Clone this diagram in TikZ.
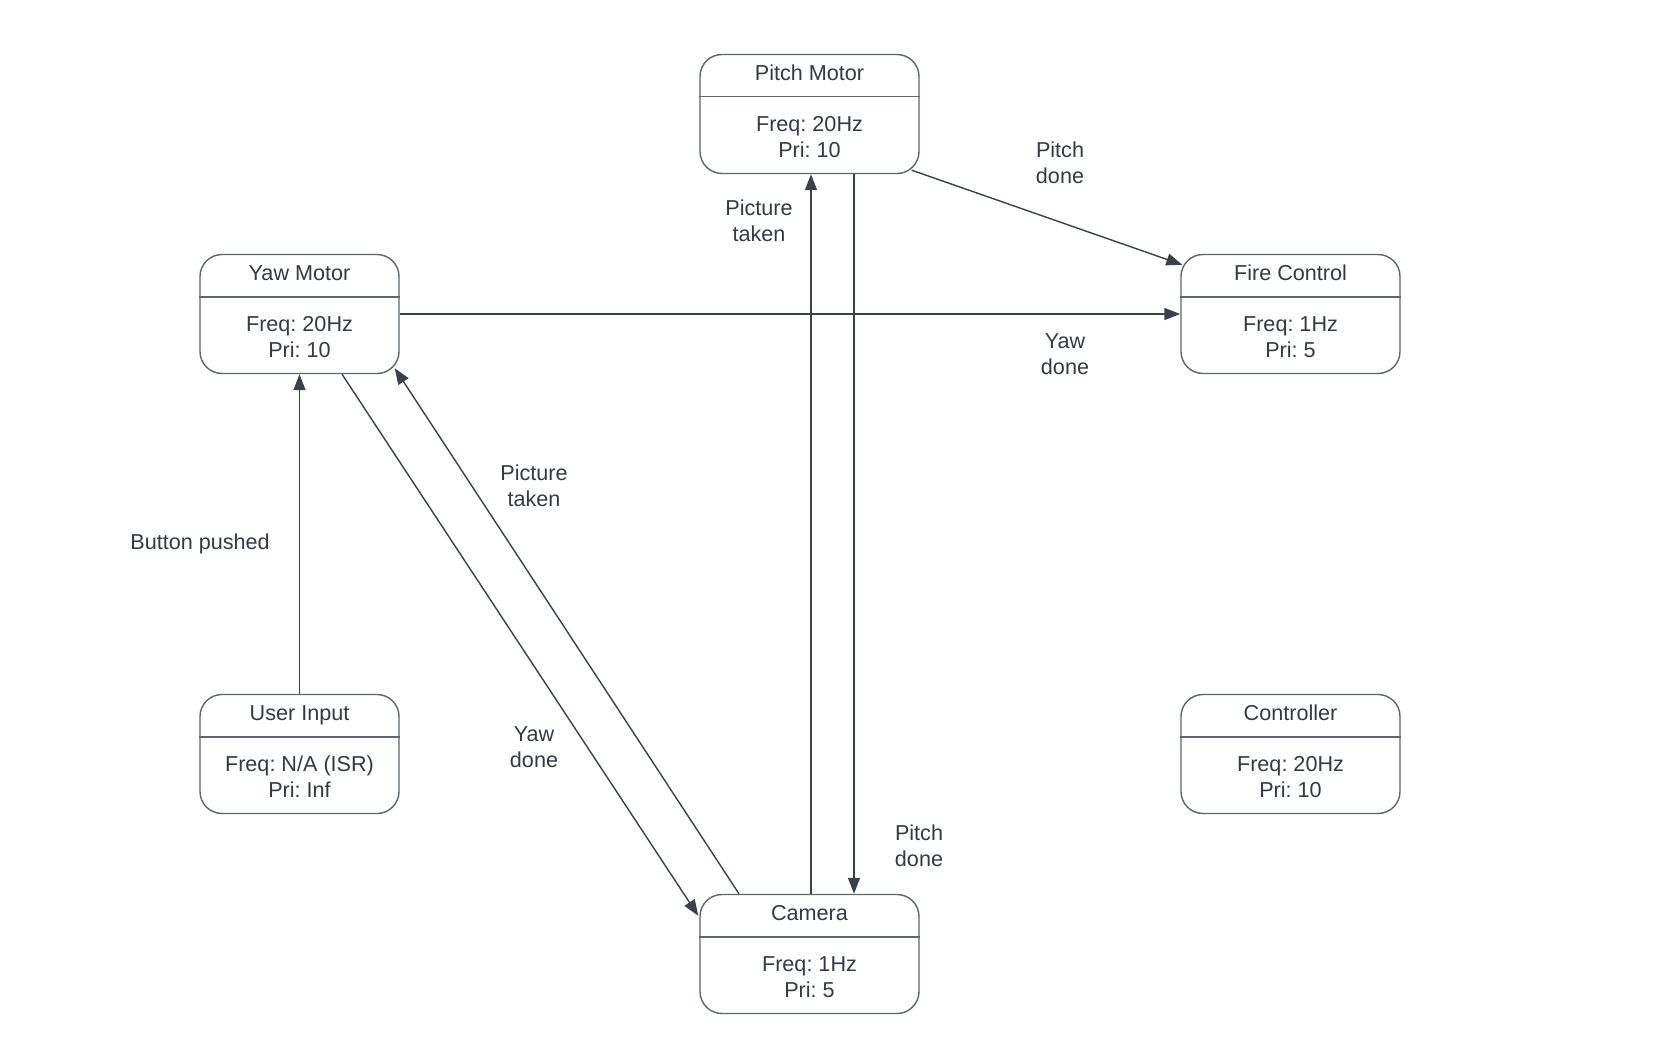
\documentclass[tikz,border=0pt]{standalone}
\usepackage{fontspec}
\setmainfont{Liberation Sans}
\usetikzlibrary{arrows.meta}
\definecolor{ln}{HTML}{3A414A}
\definecolor{bx}{HTML}{5F656D}
\definecolor{tx}{HTML}{333A43}
\frenchspacing
\newcommand\taskbox[7]{%
  \node[box, minimum width=#4] (#1) at (#2,#3) {};
  \node[ttl] (#1-t) at ([yshift=-9.5pt]#1.north) {#5};
  \draw[draw=bx, line width=0.7pt] ([yshift=-21.5pt]#1.north west) -- ([yshift=-21.5pt]#1.north east);
  \node[body] (#1-b) at ([yshift=-41.5pt]#1.north) {#6\\#7};
}
\begin{document}
\begin{tikzpicture}[x=0.5pt,y=-0.5pt, font=\fontsize{10.8}{13}\selectfont,
  box/.style={draw=bx, line width=0.7pt, rounded corners=11pt, minimum height=59.5pt, inner sep=0pt},
  ttl/.style={text=tx, inner sep=0pt, text height=7.8pt, text depth=0pt},
  body/.style={text=tx, align=center, inner sep=0pt},
  lbl/.style={text=tx, align=center, inner sep=0pt},
  arr/.style={draw=ln, line width=0.7pt, -{Triangle[length=8pt,width=6pt]}}]
\fill[white] (0,0) rectangle (1660,1054);
\useasboundingbox (0,0) rectangle (1660,1054);

\taskbox{pm}{809.5}{114}{109.5pt}{Pitch Motor}{Freq: 20Hz}{Pri: 10}
\taskbox{yaw}{299.5}{314}{99.5pt}{Yaw Motor}{Freq: 20Hz}{Pri: 10}
\taskbox{fire}{1290.5}{314}{109.5pt}{Fire Control}{Freq: 1Hz}{Pri: 5}
\taskbox{ui}{299.5}{754}{99.5pt}{User Input}{Freq: N/A (ISR)}{Pri: Inf}
\taskbox{ctrl}{1290.5}{754}{109.5pt}{Controller}{Freq: 20Hz}{Pri: 10}
\taskbox{cam}{809.5}{954}{109.5pt}{Camera}{Freq: 1Hz}{Pri: 5}

\coordinate (c811) at (811,0);
\coordinate (c854) at (854,0);
\coordinate (c342) at (342,0);
\coordinate (c739) at (739,0);

\draw[arr] (ui.north) -- (yaw.south);
\draw[arr] (yaw.east) -- (fire.west);
\draw[arr] ([shift={(-8,-4)}]pm.south east) -- ([shift={(2,11)}]fire.north west);
\draw[arr] (cam.north -| c811) -- (pm.south -| c811);
\draw[arr] (pm.south -| c854) -- (cam.north -| c854);
\draw[arr] (yaw.south -| c342) -- ([shift={(-1,22)}]cam.north west);
\draw[arr] (cam.north -| c739) -- ([shift={(-5,-6)}]yaw.south east);

\node[lbl] (l1) at (1060,163) {Pitch\\done};
\node[lbl] (l2) at (759,221) {Picture\\taken};
\node[lbl] (l3) at (1065,354) {Yaw\\done};
\node[lbl] (l4) at (534,486) {Picture\\taken};
\node[lbl] (l5) at (200,544) {Button pushed};
\node[lbl] (l6) at (534,747) {Yaw\\done};
\node[lbl] (l7) at (919,846) {Pitch\\done};
\end{tikzpicture}
\end{document}
